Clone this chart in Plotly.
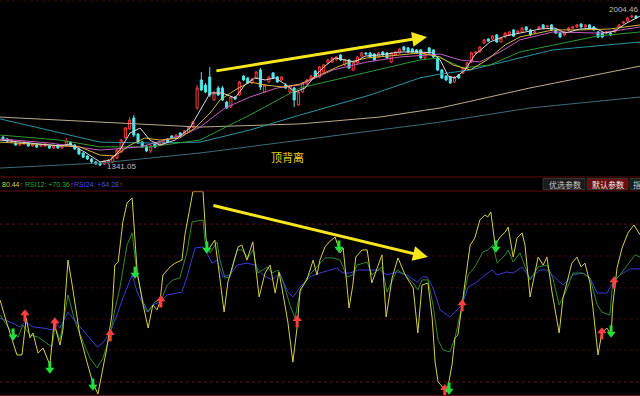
import plotly.graph_objects as go

# ---------------- price candles (bar index 0..150) ----------------
bar_index = list(range(151))
open_ = [1468,1460,1446,1442,1433,1438,1442,1429,1433,1429,1429,1429,1420,1433,1420,1429,1446,1433,1416,1398,
         1385,1372,1359,1354,1350,1354,1359,1376,1402,1464,1504,1552,1482,1446,1429,1407,1438,1433,1438,1460,
         1473,1468,1486,1482,1490,1512,1596,1719,1697,1732,1631,1684,1684,1622,1600,1644,1653,1736,1728,1706,
         1728,1763,1666,1710,1750,1732,1719,1697,1666,1684,1609,1666,1701,1723,1758,1732,1754,1794,1798,1807,
         1829,1785,1807,1763,1794,1824,1838,1838,1833,1820,1842,1838,1798,1829,1838,1864,1860,1855,1851,1851,
         1816,1860,1851,1816,1763,1736,1732,1710,1741,1750,1772,1798,1838,1842,1882,1899,1899,1917,1886,1908,
         1917,1939,1925,1930,1952,1939,1925,1943,1961,1952,1961,1939,1925,1917,1939,1947,1952,1965,1952,1961,
         1952,1930,1925,1925,1925,1930,1952,1969,1978,1996,2000]
high_ = [1473,1464,1460,1446,1446,1451,1446,1442,1438,1438,1442,1433,1433,1438,1433,1464,1451,1438,1420,1402,
         1389,1376,1363,1359,1367,1372,1385,1416,1460,1512,1556,1565,1486,1451,1433,1433,1442,1451,1455,1464,
         1477,1482,1490,1499,1517,1539,1697,1754,1706,1776,1671,1692,1693,1627,1649,1649,1715,1741,1732,1728,
         1758,1772,1701,1736,1754,1736,1736,1706,1697,1688,1671,1710,1723,1741,1763,1780,1789,1811,1820,1824,
         1833,1811,1811,1798,1824,1842,1842,1842,1838,1842,1846,1842,1842,1846,1860,1868,1864,1860,1855,1855,
         1842,1864,1855,1820,1767,1741,1736,1736,1745,1776,1798,1842,1846,1868,1899,1903,1916,1921,1908,1930,
         1934,1943,1939,1952,1956,1943,1934,1956,1965,1961,1965,1943,1930,1934,1952,1956,1965,1969,1965,1965,
         1956,1934,1930,1934,1930,1943,1965,1978,1996,2004.46,2003]
low_ = [1455,1446,1442,1429,1429,1433,1425,1425,1420,1425,1424,1416,1416,1416,1416,1425,1425,1411,1389,1376,
        1367,1354,1345,1341.05,1345,1350,1354,1372,1398,1460,1499,1468,1438,1420,1402,1398,1420,1429,1433,1442,
        1460,1464,1468,1477,1486,1508,1587,1670,1662,1644,1627,1649,1627,1591,1596,1631,1649,1714,1701,1701,
        1723,1675,1662,1706,1723,1706,1714,1679,1662,1600,1605,1662,1697,1719,1732,1728,1750,1789,1794,1802,
        1802,1780,1767,1758,1789,1820,1829,1815,1802,1815,1824,1811,1794,1824,1833,1846,1838,1838,1833,1811,
        1811,1833,1816,1758,1723,1714,1701,1706,1723,1745,1767,1794,1833,1838,1877,1886,1895,1882,1882,1903,
        1912,1908,1921,1925,1934,1912,1921,1939,1943,1947,1934,1921,1903,1912,1934,1943,1947,1947,1947,1943,
        1934,1903,1903,1921,1912,1925,1947,1965,1974,1991,1987]
close_ = [1460,1451,1455,1433,1442,1446,1429,1438,1424,1433,1438,1420,1429,1420,1429,1451,1429,1416,1394,1380,
          1372,1359,1350,1345,1363,1367,1380,1411,1455,1508,1543,1477,1442,1424,1407,1429,1424,1446,1451,1446,
          1464,1477,1473,1495,1512,1534,1684,1675,1666,1653,1662,1653,1631,1596,1644,1635,1710,1719,1706,1723,
          1754,1688,1697,1732,1728,1710,1732,1684,1693,1631,1666,1706,1719,1736,1736,1776,1785,1807,1815,1820,
          1807,1807,1772,1794,1820,1838,1833,1820,1807,1838,1829,1816,1838,1842,1855,1851,1842,1842,1838,1816,
          1838,1838,1820,1763,1728,1719,1706,1732,1728,1772,1794,1838,1842,1864,1895,1890,1912,1886,1903,1925,
          1930,1912,1934,1947,1939,1917,1930,1952,1947,1956,1939,1925,1908,1930,1947,1952,1961,1952,1961,1947,
          1939,1908,1908,1930,1917,1939,1961,1974,1991,2000,1991]

# ---------------- moving averages (bar position, price) ----------------
ma5_x = [-0.7,6.4,13.5,15.9,19.4,23.0,25.4,27.7,30.1,32.5,34.8,37.2,40.8,44.3,46.7,49.1,51.9,55.0,57.3,59.7,62.1,
         64.5,66.8,69.2,71.6,73.9,76.3,78.7,81.0,83.4,85.8,89.3,94.1,98.8,101.7,103.6,105.5,107.1,109.5,111.8,
         115.4,119.0,122.5,127.3,130.8,133.2,136.7,140.3,142.7,145.0,147.4,151.0]
ma5_y = [1455,1442,1429,1438,1402,1359,1367,1411,1486,1508,1455,1433,1455,1508,1587,1662,1662,1640,1697,1728,1719,
         1728,1701,1666,1684,1736,1780,1816,1807,1798,1824,1829,1842,1842,1838,1807,1736,1728,1763,1829,
         1886,1912,1925,1943,1947,1925,1943,1947,1925,1934,1965,2000]
ma10_x = [-0.7,11.1,18.2,23.0,26.5,30.1,33.6,37.2,41.9,45.5,49.1,51.4,55.0,58.5,62.1,66.4,70.4,75.1,78.7,82.2,
          86.3,94.1,98.8,103.6,106.6,110.7,114.7,119.0,122.5,130.3,136.7,143.8,151.0]
ma10_y = [1446,1433,1425,1389,1385,1433,1464,1455,1464,1508,1574,1631,1675,1710,1697,1688,1701,1741,1772,1798,
          1816,1829,1838,1820,1785,1763,1807,1873,1908,1939,1939,1943,1961]
ma20_x = [-0.7,11.1,23.0,32.5,42.7,46.7,52.6,58.5,65.0,70.4,78.2,86.3,94.1,103.6,108.3,113.0,117.8,122.5,130.3,
          141.5,151.0]
ma20_y = [1460,1442,1411,1425,1477,1512,1596,1644,1684,1697,1763,1798,1820,1833,1807,1798,1842,1895,1930,1925,1952]
ma30_x = [-0.7,13.5,23.0,34.8,46.7,58.5,70.4,86.3,98.8,103.6,109.0,115.4,122.5,140.8,151.0]
ma30_y = [1477,1455,1425,1425,1455,1565,1684,1754,1807,1816,1772,1785,1842,1912,1930]
ma60_x = [-0.7,23.0,34.8,46.7,58.5,70.4,87.0,98.8,103.6,110.7,130.3,151.0]
ma60_y = [1548,1446,1442,1446,1499,1565,1653,1728,1745,1763,1851,1886]
ma120_x = [-0.7,25.4,46.7,70.4,89.3,103.6,124.9,151.0]
ma120_y = [1556,1530,1512,1526,1556,1596,1684,1780]
ma250_x = [-0.7,23.0,46.7,70.4,98.8,103.6,124.9,151.0]
ma250_y = [1332,1354,1398,1455,1521,1534,1596,1644]

# ---------------- RSI (bar position, value) ----------------
rsi6_x = [-0.7,0.9,3.3,4.5,5.5,6.4,7.1,8.3,9.5,11.1,12.1,13.5,14.2,15.4,16.4,18.2,19.9,21.3,22.5,24.6,25.8,26.5,
          27.3,28.4,29.4,30.6,31.8,33.2,34.4,35.5,36.5,37.2,37.9,39.6,40.8,42.4,43.1,44.3,45.0,47.4,48.1,48.6,
          50.2,50.9,52.4,53.3,55.7,56.6,57.8,59.2,60.2,60.7,62.1,63.3,64.5,65.4,66.4,67.5,68.7,69.7,70.4,72.0,
          73.5,74.4,75.1,76.3,77.3,78.7,79.9,80.6,81.5,82.0,82.9,83.6,85.1,86.3,87.4,88.6,89.8,90.8,92.2,93.6,
          95.3,97.2,98.3,99.3,100.7,101.7,102.4,103.1,104.3,105.2,106.4,107.1,107.8,108.8,110.0,110.7,111.8,
          113.0,114.2,114.9,115.6,116.6,117.8,119.0,119.7,120.9,121.8,123.0,123.7,124.9,126.1,126.8,128.0,
          128.9,130.1,131.8,132.7,134.8,136.0,137.0,137.9,139.1,139.8,141.0,141.9,143.1,144.1,144.5,145.5,
          146.7,148.1,149.5,151.0]
rsi6_v = [53.1,44.7,33.1,33.1,46.5,39.3,41.1,33.8,35.6,29.5,44.7,36.7,42.2,67.6,58.5,40.4,30.5,22.9,18.9,35.6,47.6,
          65.8,66.9,81.5,88.4,90.2,63.3,51.3,42.9,51.3,49.5,52.4,62.2,65.1,66.5,67.6,76.7,87.6,92.5,92.5,75.6,71.3,
          74.9,66.9,48.7,59.6,72.4,73.1,67.6,74.2,61.5,54.2,62.9,65.8,55.6,63.3,54.9,45.1,30.5,43.3,56.7,60.4,
          67.6,62.2,67.6,72.4,74.2,76.0,70.2,72.0,58.5,50.2,58.5,68.7,71.3,71.3,59.3,64.7,69.5,46.9,61.1,68.4,
          62.2,57.5,41.1,58.5,59.3,46.5,30.5,23.3,21.1,19.6,29.5,39.3,40.4,51.3,65.8,73.1,75.6,
          82.2,84.0,83.3,85.1,73.1,76.0,77.8,79.6,68.7,75.6,77.5,73.1,54.2,63.3,68.7,65.8,
          68.7,56.0,41.1,53.8,66.5,68.7,65.1,66.5,59.3,50.2,33.1,41.1,42.9,40.4,51.3,64.7,
          72.0,77.5,80.4,76.7]
rsi12_x = [-0.7,1.7,3.6,4.7,6.4,8.3,10.0,11.6,12.3,13.5,15.4,17.1,19.0,20.6,22.3,23.7,25.4,26.5,27.7,29.4,30.6,
           31.8,33.2,34.4,36.0,37.7,38.9,40.3,41.9,43.6,44.8,47.4,47.9,49.1,50.7,51.4,52.6,53.8,55.5,56.6,58.1,
           59.2,60.4,62.6,63.7,65.2,66.4,68.0,69.2,70.4,72.0,74.4,76.3,78.2,79.9,81.5,82.9,83.9,86.3,87.4,89.8,
           91.0,93.4,95.3,97.2,98.3,99.3,100.7,101.9,103.1,104.3,105.9,107.1,108.8,110.2,111.8,113.7,114.9,
           116.1,117.1,119.0,119.7,120.9,122.5,124.9,126.8,128.9,130.3,131.8,133.2,135.1,137.4,139.1,140.8,
           141.9,143.8,144.5,146.2,147.9,149.8,151.0]
rsi12_v = [47.6,42.2,39.6,44.0,40.4,39.6,37.8,36.0,43.3,38.5,54.9,45.1,37.8,32.0,28.4,32.0,40.4,49.5,57.5,73.1,77.5,
           62.2,52.4,48.7,52.4,53.8,58.5,60.4,61.1,70.5,81.5,82.2,74.2,70.2,74.2,67.6,61.1,61.5,71.3,71.3,68.4,
           71.3,62.9,65.1,62.9,64.0,59.6,51.3,46.5,56.0,61.1,65.1,68.4,68.4,67.6,61.5,62.2,65.8,66.9,62.2,65.1,
           56.0,64.0,62.2,59.3,56.7,60.4,60.4,51.3,38.5,34.9,34.2,39.3,51.3,62.2,65.1,70.5,71.3,
           73.1,66.5,69.5,71.3,66.9,70.2,60.4,65.1,65.8,61.1,51.3,55.6,62.9,62.9,61.1,51.3,
           48.7,47.6,59.3,62.2,65.8,69.5,68.7]
rsi24_x = [-0.7,1.7,4.0,5.2,7.1,9.5,11.8,12.3,13.5,15.4,17.5,19.9,22.3,23.7,25.4,27.0,28.4,30.6,31.8,34.1,35.5,
           37.2,38.9,42.4,43.6,45.5,47.4,48.3,49.5,50.7,52.1,53.8,55.5,57.8,59.7,61.6,63.7,65.6,67.5,68.7,70.4,
           72.7,75.1,77.5,79.1,80.6,82.2,84.1,87.0,89.3,91.0,93.4,95.7,98.1,99.5,100.5,101.9,103.6,104.3,105.9,
           107.6,108.8,110.2,112.3,114.2,115.9,117.1,119.4,120.9,123.0,124.9,127.3,128.9,131.3,132.7,135.1,
           137.4,139.1,140.8,143.1,144.5,146.2,148.6,151.0]
rsi24_v = [46.5,45.1,43.3,45.1,43.3,42.9,42.2,45.1,42.9,48.7,44.7,40.4,36.0,37.5,41.5,47.6,53.8,62.2,56.0,48.7,51.3,
           52.4,54.9,56.0,61.5,72.0,72.4,70.2,66.5,67.6,61.5,62.2,65.8,66.5,65.8,62.2,60.4,62.9,56.0,54.2,57.8,
           61.5,62.9,64.0,64.7,62.9,62.9,64.0,64.0,64.0,62.2,63.3,62.2,59.6,61.5,61.5,57.5,49.5,48.7,46.9,
           49.5,51.3,57.8,59.6,62.2,64.0,62.2,63.3,62.9,65.1,61.1,64.0,64.0,60.4,58.5,62.2,
           62.9,61.1,55.6,55.6,59.3,62.2,64.4,64.4]

buy_x = [5.2,12.3,25.4,37.4,69.7,104.7,108.8,141.9,144.8]
buy_v = [47.6,44.7,40.4,52.7,45.5,20.4,51.3,41.1,59.6]
sell_x = [2.4,11.1,21.3,31.3,48.3,79.6,105.7,116.8,144.1]
sell_v = [40.4,28.4,22.2,62.9,72.0,72.4,20.7,72.4,41.5]

rsi_grid_major = [80.7, 23.3]
rsi_grid_minor = [69.1, 57.5, 46.2, 34.9]

# trend arrows (tail -> head)
price_trend = [(50.2, 1758), (100.5, 1908)]
rsi_trend = [(49.5, 87.6), (100.7, 68.7)]

legend_vals = ["80.44", "RSI12: +70.36", "RSI24: +64.28"]

# ---------------- figure ----------------
XR = [-0.711, 150.95]
PX_PER_RSI = 2.75
H = 396.0

fig = go.Figure()

fig.add_trace(go.Candlestick(
    x=bar_index, open=open_, high=high_, low=low_, close=close_,
    increasing=dict(line=dict(color="#ff3a3a", width=1), fillcolor="#000000"),
    decreasing=dict(line=dict(color="#4fe8ef", width=1), fillcolor="#4fe8ef"),
    whiskerwidth=0, xaxis="x", yaxis="y", hoverinfo="skip", showlegend=False))

for xs, ys, col in [(ma250_x, ma250_y, "#3f6a78"), (ma120_x, ma120_y, "#b8ab8c"),
                    (ma60_x, ma60_y, "#2b93a3"), (ma30_x, ma30_y, "#2e9a32"),
                    (ma20_x, ma20_y, "#c45cc4"), (ma10_x, ma10_y, "#d8b43a"),
                    (ma5_x, ma5_y, "#d8d8d8")]:
    fig.add_trace(go.Scatter(x=xs, y=ys, mode="lines", line=dict(color=col, width=1),
                             xaxis="x", yaxis="y", hoverinfo="skip", showlegend=False))

for xs, vs, col in [(rsi24_x, rsi24_v, "#3c3cd2"), (rsi12_x, rsi12_v, "#2a8a36"),
                    (rsi6_x, rsi6_v, "#d6cf44")]:
    fig.add_trace(go.Scatter(x=xs, y=vs, mode="lines", line=dict(color=col, width=1),
                             xaxis="x2", yaxis="y2", hoverinfo="skip", showlegend=False))

# signal arrows: head + shaft
head_off = 1.8 / PX_PER_RSI
shaft_off = 2.2 / PX_PER_RSI
fig.add_trace(go.Scatter(x=buy_x, y=[v + head_off for v in buy_v], mode="markers",
                         marker=dict(symbol="triangle-up", size=8, color="#ff4040", line=dict(width=0)),
                         xaxis="x2", yaxis="y2", hoverinfo="skip", showlegend=False))
fig.add_trace(go.Scatter(x=buy_x, y=[v - shaft_off for v in buy_v], mode="markers",
                         marker=dict(symbol="line-ns", size=6, line=dict(color="#ff4040", width=3)),
                         xaxis="x2", yaxis="y2", hoverinfo="skip", showlegend=False))
fig.add_trace(go.Scatter(x=sell_x, y=[v - head_off for v in sell_v], mode="markers",
                         marker=dict(symbol="triangle-down", size=8, color="#22e03a", line=dict(width=0)),
                         xaxis="x2", yaxis="y2", hoverinfo="skip", showlegend=False))
fig.add_trace(go.Scatter(x=sell_x, y=[v + shaft_off for v in sell_v], mode="markers",
                         marker=dict(symbol="line-ns", size=6, line=dict(color="#22e03a", width=3)),
                         xaxis="x2", yaxis="y2", hoverinfo="skip", showlegend=False))

shapes = []
for g in rsi_grid_major:
    shapes.append(dict(type="line", xref="x2", yref="y2", x0=XR[0], x1=XR[1], y0=g, y1=g,
                       line=dict(color="#6a1010", width=1, dash="dot"), layer="below"))
for g in rsi_grid_minor:
    shapes.append(dict(type="line", xref="x2", yref="y2", x0=XR[0], x1=XR[1], y0=g, y1=g,
                       line=dict(color="#3c0909", width=1, dash="dot"), layer="below"))
for ypx in (177, 191):
    shapes.append(dict(type="line", xref="paper", yref="paper", x0=0, x1=1,
                       y0=1 - ypx / H, y1=1 - ypx / H, line=dict(color="#5e0a0a", width=1)))
shapes.append(dict(type="line", xref="paper", yref="paper", x0=0, x1=1, y0=1 - 1 / H, y1=1 - 1 / H,
                   line=dict(color="#3a0808", width=1, dash="dot")))
shapes.append(dict(type="line", xref="paper", yref="paper", x0=0, x1=1, y0=0.5 / H, y1=0.5 / H,
                   line=dict(color="#5e0a0a", width=1)))
# buttons
btns = [(543, 585, "#1b1b1b", "优选参数", "#c8c8c8", 547), (587, 628, "#6e0c0c", "默认参数", "#ececec", 590),
        (630, 645, "#1b1b1b", "指", "#c8c8c8", 631)]
ann = []
for x0, x1, bg, txt, tc, tx in btns:
    shapes.append(dict(type="rect", xref="paper", yref="paper", x0=x0 / 640, x1=x1 / 640,
                       y0=1 - 189.5 / H, y1=1 - 178.5 / H, fillcolor=bg,
                       line=dict(color="#333333", width=1)))
    ann.append(dict(xref="paper", yref="paper", x=tx / 640, y=1 - 184 / H, xanchor="left",
                    yanchor="middle", text=txt, showarrow=False,
                    font=dict(size=8, color=tc, family="Noto Sans CJK SC")))

# legend texts
leg_cols = ["#d6cf44", "#2ea83a", "#4a4ae6"]
leg_x = [0, 23, 72]
for t, c, xp in zip(legend_vals, leg_cols, leg_x):
    ann.append(dict(xref="paper", yref="paper", x=xp / 640, y=1 - 184 / H, xanchor="left", yanchor="middle",
                    text=f"<span style='color:{c}'>{t}</span><span style='color:#ff3030'>↑</span>",
                    showarrow=False, font=dict(size=7, family="Liberation Sans, Arial")))

# price labels
ann.append(dict(xref="x", yref="y", x=23, y=1341.05, xanchor="left", yanchor="middle", xshift=5,
                text="1341.05", showarrow=False,
                font=dict(size=8, color="#bdbdbd", family="Liberation Sans, Arial")))
ann.append(dict(xref="paper", yref="y", x=1, y=2004.46, xanchor="right", yanchor="bottom", yshift=-1,
                text="2004.46", showarrow=False,
                font=dict(size=8, color="#bdbdbd", family="Liberation Sans, Arial")))
ann.append(dict(xref="x", yref="y", x=67.5, y=1380, xanchor="center", yanchor="middle",
                text="顶背离", showarrow=False,
                font=dict(size=11, color="#e8d21e", family="Noto Sans CJK SC")))

# trend arrows
(tx0, ty0), (tx1, ty1) = price_trend
ann.append(dict(xref="x", yref="y", axref="x", ayref="y", x=tx1, y=ty1, ax=tx0, ay=ty0,
                showarrow=True, arrowhead=2, arrowsize=1.0, arrowwidth=3, arrowcolor="#f6e61c", text=""))
(rx0, ry0), (rx1, ry1) = rsi_trend
ann.append(dict(xref="x2", yref="y2", axref="x2", ayref="y2", x=rx1, y=ry1, ax=rx0, ay=ry0,
                showarrow=True, arrowhead=2, arrowsize=1.0, arrowwidth=3, arrowcolor="#f6e61c", text=""))

fig.update_layout(
    width=640, height=396, margin=dict(l=0, r=0, t=0, b=0),
    paper_bgcolor="#000000", plot_bgcolor="#000000", showlegend=False,
    xaxis=dict(domain=[0, 1], range=XR, visible=False, rangeslider=dict(visible=False), anchor="y"),
    yaxis=dict(domain=[1 - 177 / H, 1], range=[1292.7, 2070.4], visible=False, anchor="x"),
    xaxis2=dict(domain=[0, 1], range=XR, visible=False, anchor="y2"),
    yaxis2=dict(domain=[0, 205 / H], range=[18.18, 92.73], visible=False, anchor="x2"),
    shapes=shapes, annotations=ann, hovermode=False,
)

fig.write_html("out.html")
